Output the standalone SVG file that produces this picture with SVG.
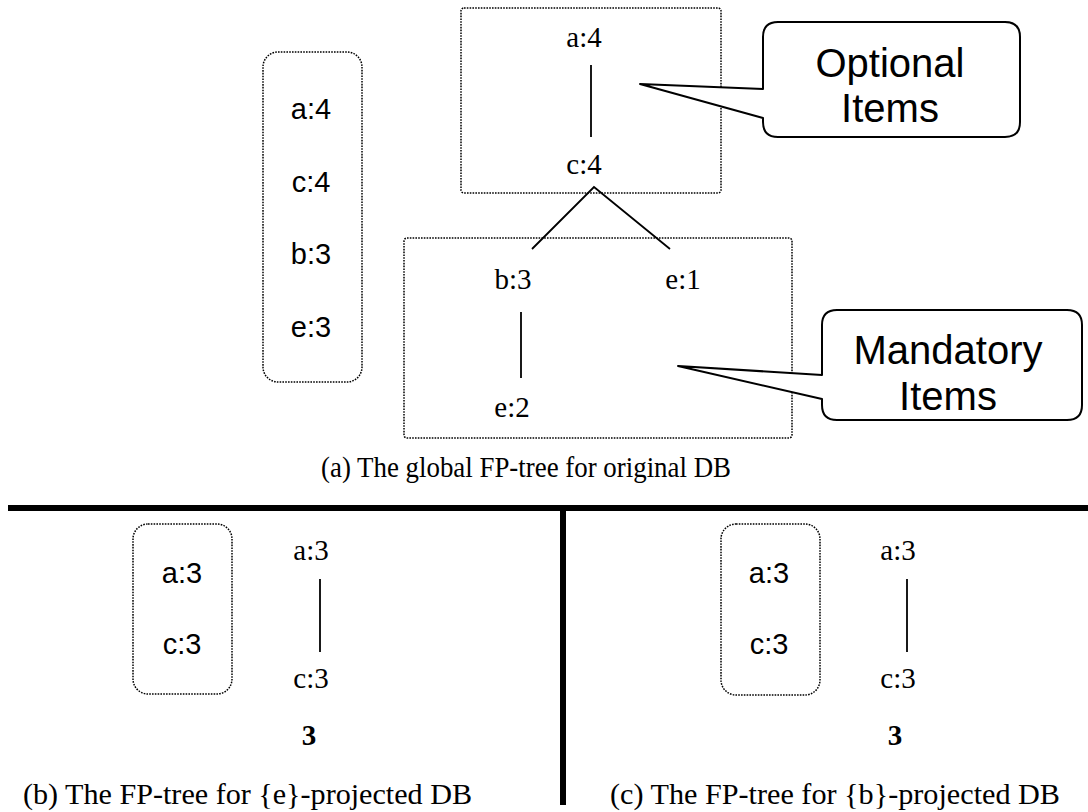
<svg xmlns="http://www.w3.org/2000/svg" width="1088" height="812" viewBox="0 0 1088 812">
<style>
.dot{fill:none;stroke:#000;stroke-width:1.5;stroke-dasharray:1.6 1.2}
.serif{font-family:"Liberation Serif","Times New Roman",serif;fill:#000}
.sans{font-family:"Liberation Sans",Arial,sans-serif;fill:#000}
.node{font-size:29px;text-anchor:middle}
.hdr{font-size:29px;text-anchor:middle}
.cap{font-size:30px}
.call{fill:#fff;stroke:#000;stroke-width:2;stroke-linejoin:round}
.ct{font-size:40px;text-anchor:middle}
.edge{stroke:#000;stroke-width:1.8;fill:none}
.thick{stroke:#000;stroke-width:6}
</style>
<defs>
<filter id="sh" x="-5%" y="-50%" width="110%" height="300%">
<feGaussianBlur stdDeviation="2.5"/>
</filter>
</defs>
<rect width="1088" height="812" fill="#fff"/>

<g id="header-table-a">
<rect class="dot" x="263" y="52" width="99" height="330" rx="15"/>
<text class="sans hdr" x="311" y="119">a:4</text>
<text class="sans hdr" x="311" y="192">c:4</text>
<text class="sans hdr" x="311" y="264">b:3</text>
<text class="sans hdr" x="311" y="337">e:3</text>
</g>

<g id="optional-region"><rect class="dot" x="461" y="8" width="260" height="185" rx="3"/></g>
<g id="mandatory-region"><rect class="dot" x="404" y="238" width="388" height="200" rx="3"/></g>

<g id="connectors">
<line class="edge" x1="591" y1="65" x2="591" y2="137"/>
<polyline class="edge" points="532,249 594,187 670,249"/>
<line class="edge" x1="521" y1="312" x2="521" y2="378"/>
<line class="edge" x1="320" y1="579" x2="320" y2="652"/>
<line class="edge" x1="907" y1="579" x2="907" y2="652"/>
</g>

<g id="n-a4"><text class="serif node" x="584" y="47">a:4</text></g>
<g id="n-c4"><text class="serif node" x="584" y="174">c:4</text></g>
<g id="n-b3"><text class="serif node" x="513" y="289">b:3</text></g>
<g id="n-e1"><text class="serif node" x="683" y="289">e:1</text></g>
<g id="n-e2"><text class="serif node" x="512" y="417">e:2</text></g>

<g id="callout-optional">
<path class="call" d="M778,22 H1005 Q1020,22 1020,37 V122 Q1020,137 1005,137 H778 Q763,137 763,122 V118 L640,84 L763,89 V37 Q763,22 778,22 Z"/>
<text class="sans ct" x="890" y="77">Optional</text>
<text class="sans ct" x="890" y="122">Items</text>
</g>

<g id="callout-mandatory">
<path class="call" d="M837,310 H1067 Q1082,310 1082,325 V405 Q1082,420 1067,420 H837 Q822,420 822,405 V399 L678,366 L822,375 V325 Q822,310 837,310 Z"/>
<text class="sans ct" x="948" y="364">Mandatory</text>
<text class="sans ct" x="948" y="410">Items</text>
</g>

<text class="serif cap" x="321" y="477" font-size="28" textLength="410" lengthAdjust="spacingAndGlyphs">(a) The global FP-tree for original DB</text>

<g id="dividers">
<line x1="10" y1="513" x2="1088" y2="513" stroke="#777" stroke-width="6" filter="url(#sh)"/>
<line x1="567" y1="510" x2="567" y2="808" stroke="#777" stroke-width="6" filter="url(#sh)"/>
<line class="thick" x1="8" y1="508" x2="1088" y2="508"/>
<line class="thick" x1="563" y1="505" x2="563" y2="805"/>
</g>

<g id="header-table-b">
<rect class="dot" x="133" y="524" width="99" height="170" rx="15"/>
<text class="sans hdr" x="182" y="583">a:3</text>
<text class="sans hdr" x="182" y="654">c:3</text>
</g>
<g id="b-a3"><text class="serif node" x="311" y="560">a:3</text></g>
<g id="b-c3"><text class="serif node" x="311" y="688">c:3</text></g>
<g id="b-count"><text class="serif node" x="309" y="745" font-weight="bold">3</text></g>
<text class="serif cap" x="23" y="804" textLength="449" lengthAdjust="spacingAndGlyphs">(b) The FP-tree for {e}-projected DB</text>

<g id="header-table-c">
<rect class="dot" x="721" y="524" width="99" height="171" rx="15"/>
<text class="sans hdr" x="769" y="583">a:3</text>
<text class="sans hdr" x="769" y="654">c:3</text>
</g>
<g id="c-a3"><text class="serif node" x="898" y="560">a:3</text></g>
<g id="c-c3"><text class="serif node" x="898" y="688">c:3</text></g>
<g id="c-count"><text class="serif node" x="895" y="745" font-weight="bold">3</text></g>
<text class="serif cap" x="610" y="804" textLength="450" lengthAdjust="spacingAndGlyphs">(c) The FP-tree for {b}-projected DB</text>
</svg>
